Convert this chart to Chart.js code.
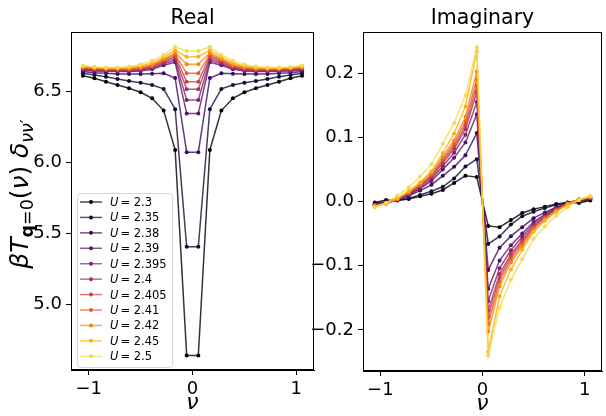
<!DOCTYPE html>
<html>
<head>
<meta charset="utf-8">
<script src="https://cdn.jsdelivr.net/npm/chart.js@4.4.1/dist/chart.umd.min.js"></script>
<style>
  html, body { margin: 0; padding: 0; background: #fff; }
  #wrap { position: relative; width: 606px; height: 416px; overflow: hidden; }
  canvas { position: absolute; top: 0; }
</style>
</head>
<body>
<div id="wrap">
  <canvas id="realChart" width="318" height="416" style="left:0px"></canvas>
  <canvas id="imagChart" width="294" height="416" style="left:312px"></canvas>
</div>
<script>
// データ
const nu = [-1.055, -0.944, -0.833, -0.722, -0.611, -0.5, -0.389, -0.278, -0.167, -0.056,
             0.056, 0.167, 0.278, 0.389, 0.5, 0.611, 0.722, 0.833, 0.944, 1.055];

const uLabels = ["2.3", "2.35", "2.38", "2.39", "2.395", "2.4", "2.405", "2.41", "2.42", "2.45", "2.5"];

// inferno
const colors = ["#000004", "#140b35", "#390963", "#5f136e", "#85216b", "#a92e5e",
                "#cb4149", "#e65d2f", "#f8850f", "#fcae12", "#f5db4b"];

// Real part
const realU230  = [6.611, 6.593, 6.569, 6.546, 6.523, 6.494, 6.452, 6.365, 6.088, 4.639, 4.639, 6.088, 6.365, 6.452, 6.494, 6.523, 6.546, 6.569, 6.593, 6.611];
const realU235  = [6.628, 6.616, 6.604, 6.588, 6.574, 6.562, 6.546, 6.518, 6.375, 5.405, 5.405, 6.375, 6.518, 6.546, 6.562, 6.574, 6.588, 6.604, 6.616, 6.628];
const realU238  = [6.640, 6.632, 6.628, 6.623, 6.623, 6.623, 6.625, 6.628, 6.595, 6.072, 6.072, 6.595, 6.628, 6.625, 6.623, 6.623, 6.623, 6.628, 6.632, 6.640];
const realU239  = [6.651, 6.645, 6.642, 6.640, 6.640, 6.645, 6.656, 6.685, 6.705, 6.345, 6.345, 6.705, 6.685, 6.656, 6.645, 6.640, 6.640, 6.642, 6.645, 6.651];
const realU2395 = [6.656, 6.650, 6.647, 6.645, 6.645, 6.650, 6.663, 6.695, 6.720, 6.440, 6.440, 6.720, 6.695, 6.663, 6.650, 6.645, 6.645, 6.647, 6.650, 6.656];
const realU240  = [6.660, 6.654, 6.651, 6.649, 6.650, 6.656, 6.670, 6.705, 6.735, 6.515, 6.515, 6.735, 6.705, 6.670, 6.656, 6.650, 6.649, 6.651, 6.654, 6.660];
const realU2405 = [6.664, 6.658, 6.654, 6.653, 6.654, 6.661, 6.676, 6.713, 6.748, 6.569, 6.569, 6.748, 6.713, 6.676, 6.661, 6.654, 6.653, 6.654, 6.658, 6.664];
const realU241  = [6.668, 6.662, 6.658, 6.657, 6.658, 6.666, 6.682, 6.722, 6.760, 6.628, 6.628, 6.760, 6.722, 6.682, 6.666, 6.658, 6.657, 6.658, 6.662, 6.668];
const realU242  = [6.672, 6.666, 6.662, 6.661, 6.663, 6.672, 6.689, 6.730, 6.772, 6.692, 6.692, 6.772, 6.730, 6.689, 6.672, 6.663, 6.661, 6.662, 6.666, 6.672];
const realU245  = [6.677, 6.669, 6.665, 6.665, 6.669, 6.680, 6.700, 6.742, 6.790, 6.745, 6.745, 6.790, 6.742, 6.700, 6.680, 6.669, 6.665, 6.665, 6.669, 6.677];
const realU250  = [6.682, 6.672, 6.668, 6.668, 6.675, 6.690, 6.717, 6.757, 6.815, 6.785, 6.785, 6.815, 6.757, 6.717, 6.690, 6.675, 6.668, 6.668, 6.672, 6.682];

// Imaginary part
const imagU230  = [-0.0015, 0.0025, 0.0015, 0.004, 0.008, 0.012, 0.018, 0.029, 0.040, 0.038, -0.038, -0.040, -0.029, -0.018, -0.012, -0.008, -0.004, -0.0015, -0.0025, 0.0015];
const imagU235  = [-0.003, 0.000, 0.002, 0.005, 0.010, 0.016, 0.023, 0.036, 0.0545, 0.066, -0.066, -0.0545, -0.036, -0.023, -0.016, -0.010, -0.005, -0.002, 0.000, 0.003];
const imagU238  = [-0.004, -0.002, 0.002, 0.009, 0.017, 0.026, 0.040, 0.054, 0.072, 0.1065, -0.1065, -0.072, -0.054, -0.040, -0.026, -0.017, -0.009, -0.002, 0.002, 0.004];
const imagU239  = [-0.005, -0.002, 0.003, 0.010, 0.020, 0.032, 0.050, 0.068, 0.092, 0.136, -0.136, -0.092, -0.068, -0.050, -0.032, -0.020, -0.010, -0.003, 0.002, 0.005];
const imagU2395 = [-0.005, -0.002, 0.003, 0.011, 0.022, 0.035, 0.055, 0.076, 0.104, 0.155, -0.155, -0.104, -0.076, -0.055, -0.035, -0.022, -0.011, -0.003, 0.002, 0.005];
const imagU240  = [-0.006, -0.003, 0.003, 0.012, 0.024, 0.038, 0.060, 0.082, 0.113, 0.170, -0.170, -0.113, -0.082, -0.060, -0.038, -0.024, -0.012, -0.003, 0.003, 0.006];
const imagU2405 = [-0.006, -0.003, 0.003, 0.013, 0.025, 0.040, 0.063, 0.086, 0.119, 0.180, -0.180, -0.119, -0.086, -0.063, -0.040, -0.025, -0.013, -0.003, 0.003, 0.006];
const imagU241  = [-0.007, -0.003, 0.004, 0.014, 0.026, 0.042, 0.066, 0.090, 0.125, 0.190, -0.190, -0.125, -0.090, -0.066, -0.042, -0.026, -0.014, -0.004, 0.003, 0.007];
const imagU242  = [-0.007, -0.003, 0.004, 0.015, 0.028, 0.045, 0.070, 0.095, 0.132, 0.2025, -0.2025, -0.132, -0.095, -0.070, -0.045, -0.028, -0.015, -0.004, 0.003, 0.007];
const imagU245  = [-0.008, -0.003, 0.005, 0.016, 0.030, 0.047, 0.075, 0.106, 0.148, 0.234, -0.234, -0.148, -0.106, -0.075, -0.047, -0.030, -0.016, -0.005, 0.003, 0.008];
const imagU250  = [-0.009, -0.002, 0.009, 0.022, 0.039, 0.058, 0.090, 0.122, 0.165, 0.240, -0.240, -0.165, -0.122, -0.090, -0.058, -0.039, -0.022, -0.009, 0.002, 0.009];

const realSeries = [realU230, realU235, realU238, realU239, realU2395, realU240, realU2405, realU241, realU242, realU245, realU250];
const imagSeries = [imagU230, imagU235, imagU238, imagU239, imagU2395, imagU240, imagU2405, imagU241, imagU242, imagU245, imagU250];

// 目盛り
const xTicks = [-1, 0, 1];
const xTickLabels = ["\u22121", "0", "1"];
const realYTicks = [5.0, 5.5, 6.0, 6.5];
const realYTickLabels = ["5.0", "5.5", "6.0", "6.5"];
const imagYTicks = [-0.2, -0.1, 0.0, 0.1, 0.2];
const imagYTickLabels = ["\u22120.2", "\u22120.1", "0.0", "0.1", "0.2"];

const FONT = "DejaVu Sans";

function withAlpha(hex, a) {
  const r = parseInt(hex.slice(1, 3), 16), g = parseInt(hex.slice(3, 5), 16), b = parseInt(hex.slice(5, 7), 16);
  return `rgba(${r},${g},${b},${a})`;
}

function makeDatasets(series) {
  return series.map((vals, i) => ({
    label: "U = " + uLabels[i],
    data: nu.map((x, j) => ({ x: x, y: vals[j] })),
    borderColor: withAlpha(colors[i], 0.8),
    backgroundColor: colors[i],
    pointBackgroundColor: colors[i],
    pointBorderWidth: 0,
    pointRadius: 2,
    borderWidth: 1.5,
    order: series.length - i
  }));
}

// 枠・タイトル・軸ラベル
function framePlugin(title, drawLegend, drawYLabel) {
  return {
    id: "frame",
    afterDraw(chart) {
      const { ctx, chartArea: a } = chart;
      ctx.save();
      ctx.strokeStyle = "#000";
      ctx.lineWidth = 1;
      ctx.strokeRect(Math.round(a.left) + 0.5, Math.round(a.top) + 0.5,
                     Math.round(a.right - a.left) - 1, Math.round(a.bottom - a.top) - 1);

      ctx.fillStyle = "#000";
      ctx.textAlign = "center";
      ctx.textBaseline = "alphabetic";
      ctx.font = `20.5px "${FONT}"`;
      ctx.fillText(title, (a.left + a.right) / 2, a.top - 8);

      ctx.font = `italic 22px "${FONT}"`;
      ctx.fillText("\u03bd", (a.left + a.right) / 2, a.bottom + 39);

      if (drawYLabel) {
        const pieces = [
          { t: "\u03b2", f: `italic 25px "${FONT}"`, dy: 0 },
          { t: "T", f: `italic 25px "${FONT}"`, dy: 0 },
          { t: "q", f: `bold 17.5px "${FONT}"`, dy: 5 },
          { t: "=0", f: `17.5px "${FONT}"`, dy: 5 },
          { t: "(", f: `25px "${FONT}"`, dy: 0 },
          { t: "\u03bd", f: `italic 25px "${FONT}"`, dy: 0 },
          { t: ")", f: `25px "${FONT}"`, dy: 0 },
          { t: "  ", f: `12px "${FONT}"`, dy: 0 },
          { t: "\u03b4", f: `italic 25px "${FONT}"`, dy: 0 },
          { t: "\u03bd\u03bd\u2032", f: `italic 17.5px "${FONT}"`, dy: 5 }
        ];
        let total = 0;
        pieces.forEach(p => { ctx.font = p.f; p.w = ctx.measureText(p.t).width; total += p.w; });
        ctx.save();
        ctx.translate(28, 194);
        ctx.rotate(-Math.PI / 2);
        ctx.textAlign = "left";
        let x = -total / 2;
        pieces.forEach(p => { ctx.font = p.f; ctx.fillText(p.t, x, p.dy); x += p.w; });
        ctx.restore();
      }

      if (drawLegend) {
        const bx = a.left + 6, by = a.top + 161, bw = 95, bh = 174;
        ctx.fillStyle = "rgba(255,255,255,0.8)";
        ctx.strokeStyle = "#d6d6d6";
        ctx.beginPath();
        ctx.roundRect(bx + 0.5, by + 0.5, bw, bh, 3);
        ctx.fill();
        ctx.stroke();
        ctx.textAlign = "left";
        ctx.textBaseline = "middle";
        for (let i = 0; i < uLabels.length; i++) {
          const y = by + 9 + i * 15.43;
          ctx.strokeStyle = withAlpha(colors[i], 0.7);
          ctx.lineWidth = 1.5;
          ctx.beginPath();
          ctx.moveTo(bx + 3, y);
          ctx.lineTo(bx + 25, y);
          ctx.stroke();
          ctx.fillStyle = colors[i];
          ctx.beginPath();
          ctx.arc(bx + 14, y, 2, 0, Math.PI * 2);
          ctx.fill();
          ctx.fillStyle = "#000";
          ctx.font = `italic 11.5px "${FONT}"`;
          ctx.fillText("U", bx + 33, y + 1);
          const uw = ctx.measureText("U").width;
          ctx.font = `11.5px "${FONT}"`;
          ctx.fillText("= " + uLabels[i], bx + 33 + uw + 2, y + 1);
        }
      }
      ctx.restore();
    }
  };
}

function axisCommon(ticks, labels, fitFn) {
  return {
    type: "linear",
    afterBuildTicks: s => { s.ticks = ticks.map(v => ({ value: v })); },
    afterFit: fitFn,
    ticks: {
      autoSkip: false,
      maxRotation: 0,
      padding: 4,
      color: "#000",
      font: { family: FONT, size: 18 },
      callback: (v, i) => labels[i]
    },
    grid: { display: true, drawOnChartArea: false, drawTicks: true, tickLength: 5, color: "#000", lineWidth: 1 },
    border: { display: true, color: "#000", width: 1 }
  };
}

function makeChart(id, series, yTicks, yLabels, yMin, yMax, yWidth, xHeight, padRight, title, isLeft) {
  const xAxis = axisCommon(xTicks, xTickLabels, s => { s.height = xHeight; });
  xAxis.min = -1.17; xAxis.max = 1.17;
  const yAxis = axisCommon(yTicks, yLabels, s => { s.width = yWidth; });
  yAxis.min = yMin; yAxis.max = yMax;
  return new Chart(document.getElementById(id), {
    type: "line",
    data: { datasets: makeDatasets(series) },
    options: {
      responsive: false,
      animation: false,
      devicePixelRatio: 1,
      layout: { padding: { top: 32, right: padRight, left: 0, bottom: 0 } },
      plugins: { legend: { display: false }, tooltip: { enabled: false } },
      scales: { x: xAxis, y: yAxis }
    },
    plugins: [framePlugin(title, isLeft, isLeft)]
  });
}

makeChart("realChart", realSeries, realYTicks, realYTickLabels, 4.537, 6.919, 71, 46, 2, "Real", true);
makeChart("imagChart", imagSeries, imagYTicks, imagYTickLabels, -0.264, 0.264, 51, 45, 1, "Imaginary", false);
</script>
</body>
</html>
